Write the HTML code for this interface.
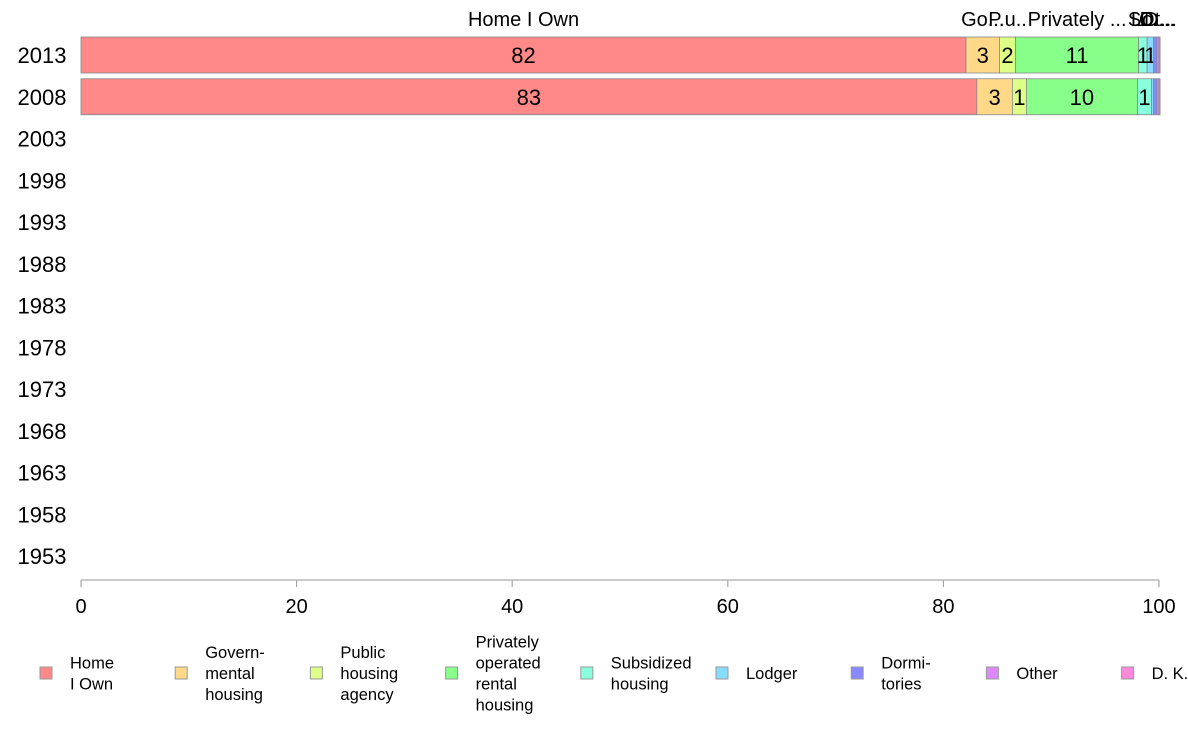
<!DOCTYPE html>
<html><head><meta charset="utf-8"><style>
html,body{margin:0;padding:0;background:#fff;}
svg{display:block;font-family:"Liberation Sans",Arial,sans-serif;}
</style></head><body>
<svg id="chart" width="1188" height="736" viewBox="0 0 1188 736" xmlns="http://www.w3.org/2000/svg"></svg>
<script>
const years = ["2013","2008","2003","1998","1993","1988","1983","1978","1973","1968","1963","1958","1953"];
const categories = ["Home I Own","Governmental housing","Public housing agency","Privately operated rental housing","Subsidized housing","Lodger","Dormitories","Other","D. K."];
const legendLabels = [["Home","I Own"],["Govern-","mental"," housing"],["Public","housing","agency"],["Privately","operated","rental","housing"],["Subsidized"," housing"],["Lodger"],["Dormi-","tories"],["Other"],["D. K."]];
const topLabels = ["Home I Own","Go...","P.u..","Privately ...","S...","Lo...","D...","Ot...","D..."];
const colors = ["#ff8888","#ffd888","#ddff88","#88ff88","#88ffdd","#88ddff","#8888ff","#dd88ff","#ff88dd"];
const values2013 = [82.1,3.1,1.5,11.4,0.8,0.6,0.3,0.2,0.1];
const values2008 = [83.1,3.3,1.3,10.3,1.3,0.2,0.3,0.2,0.1];
const seriesByYear = {"2013":values2013,"2008":values2008};
const xTicks = [0,20,40,60,80,100];

const svg = document.getElementById('chart');
const NS = 'http://www.w3.org/2000/svg';
const x0 = 81, x1 = 1159;
const xScale = v => x0 + (x1 - x0) * v / 100;
const yScale = i => 55 + i * 41.75;
const barH = 36;
function mk(tag, attrs, parent){const e=document.createElementNS(NS,tag);for(const k in attrs)e.setAttribute(k,attrs[k]);(parent||svg).appendChild(e);return e;}

// year labels
years.forEach((y,i)=>{
  const t = mk('text',{x:42,y:yScale(i)+8,'text-anchor':'middle','font-size':22,fill:'#000'});
  
  
  t.textContent=y;
});

// bars
years.forEach((y,i)=>{
  const vals = seriesByYear[y];
  if(!vals) return;
  let acc = 0;
  vals.forEach((v,j)=>{
    const xa = xScale(acc), xb = xScale(acc+v);
    const r = mk('rect',{x:xa,y:yScale(i)-barH/2,width:Math.max(xb-xa,0.5),height:barH,fill:colors[j],stroke:'#888','stroke-width':0.8});
    
    
    const w = xb-xa;
    if(w>=6){
      const t = mk('text',{x:(xa+xb)/2,y:yScale(i)+8,'text-anchor':'middle','font-size':22,fill:'#000'});
      
      
      t.textContent=Math.round(v);
    }
    if(i===0){
      const t = mk('text',{x:(xa+xb)/2,y:26,'text-anchor':'middle','font-size':20,fill:'#000'});
      
      
      t.textContent=topLabels[j];
    }
    acc += v;
  });
});

// x axis
const ax = mk('line',{x1:x0,y1:580,x2:x1,y2:580,stroke:'#aaa','stroke-width':1.2});


xTicks.forEach(v=>{
  const l = mk('line',{x1:xScale(v),y1:580,x2:xScale(v),y2:587,stroke:'#aaa','stroke-width':1.2});
  
  
  const t = mk('text',{x:xScale(v),y:613,'text-anchor':'middle','font-size':20,fill:'#000'});
  
  
  t.textContent=v;
});

// legend
categories.forEach((c,j)=>{
  const lx = 40 + j*135.2;
  const g = mk('g',{});
  
  
  mk('rect',{x:lx,y:667,width:12,height:12,fill:colors[j],stroke:'#999','stroke-width':1},g);
  const lines = legendLabels[j];
  const lh = 21;
  const startY = 673 - (lines.length-1)*lh/2 + 6;
  lines.forEach((ln,k)=>{
    const t = mk('text',{x:lx+30,y:startY+k*lh,'font-size':16.5,fill:'#000','xml:space':'preserve'},g);
    
    
    t.textContent=ln;
  });
});
</script>
</body></html>
